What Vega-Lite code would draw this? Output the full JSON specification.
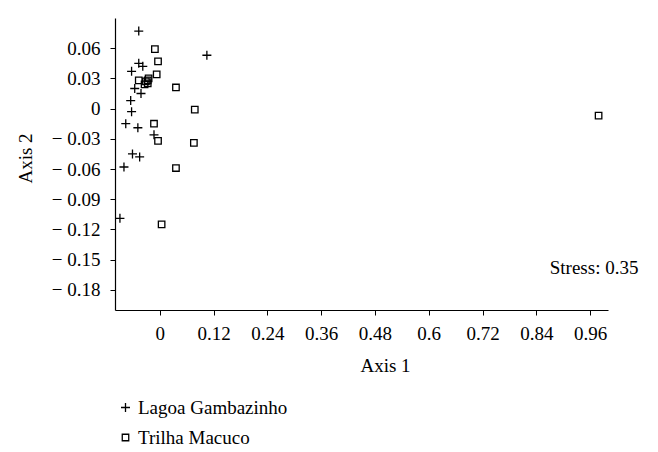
{
  "$schema": "https://vega.github.io/schema/vega-lite/v6.json",
  "width": 493,
  "height": 292,
  "autosize": {"type": "none"},
  "padding": {"left": 115, "top": 18, "right": 50, "bottom": 142},
  "background": "white",
  "config": {
    "view": {"stroke": null},
    "font": "Liberation Serif",
    "axis": {
      "grid": false,
      "domainColor": "black",
      "domainWidth": 1.2,
      "tickColor": "black",
      "tickSize": 5,
      "tickWidth": 1,
      "labelFont": "Liberation Serif",
      "labelFontSize": 19,
      "labelColor": "black",
      "labelOverlap": false,
      "titleFont": "Liberation Serif",
      "titleFontSize": 19,
      "titleFontWeight": "normal",
      "titleColor": "black"
    },
    "legend": {
      "labelFont": "Liberation Serif",
      "labelFontSize": 19,
      "labelColor": "black"
    }
  },
  "datasets": {
    "points": [
      {"axis1": -0.047, "axis2": 0.077, "site": "Lagoa Gambazinho"},
      {"axis1": 0.105, "axis2": 0.053, "site": "Lagoa Gambazinho"},
      {"axis1": -0.047, "axis2": 0.045, "site": "Lagoa Gambazinho"},
      {"axis1": -0.038, "axis2": 0.042, "site": "Lagoa Gambazinho"},
      {"axis1": -0.063, "axis2": 0.037, "site": "Lagoa Gambazinho"},
      {"axis1": -0.056, "axis2": 0.020, "site": "Lagoa Gambazinho"},
      {"axis1": -0.042, "axis2": 0.015, "site": "Lagoa Gambazinho"},
      {"axis1": -0.065, "axis2": 0.008, "site": "Lagoa Gambazinho"},
      {"axis1": -0.063, "axis2": -0.003, "site": "Lagoa Gambazinho"},
      {"axis1": -0.076, "axis2": -0.015, "site": "Lagoa Gambazinho"},
      {"axis1": -0.049, "axis2": -0.019, "site": "Lagoa Gambazinho"},
      {"axis1": -0.013, "axis2": -0.026, "site": "Lagoa Gambazinho"},
      {"axis1": -0.061, "axis2": -0.045, "site": "Lagoa Gambazinho"},
      {"axis1": -0.045, "axis2": -0.048, "site": "Lagoa Gambazinho"},
      {"axis1": -0.080, "axis2": -0.058, "site": "Lagoa Gambazinho"},
      {"axis1": -0.089, "axis2": -0.109, "site": "Lagoa Gambazinho"},
      {"axis1": -0.011, "axis2": 0.059, "site": "Trilha Macuco"},
      {"axis1": -0.004, "axis2": 0.047, "site": "Trilha Macuco"},
      {"axis1": -0.007, "axis2": 0.034, "site": "Trilha Macuco"},
      {"axis1": -0.025, "axis2": 0.030, "site": "Trilha Macuco"},
      {"axis1": -0.047, "axis2": 0.028, "site": "Trilha Macuco"},
      {"axis1": -0.031, "axis2": 0.027, "site": "Trilha Macuco"},
      {"axis1": -0.027, "axis2": 0.025, "site": "Trilha Macuco"},
      {"axis1": -0.034, "axis2": 0.024, "site": "Trilha Macuco"},
      {"axis1": -0.027, "axis2": 0.028, "site": "Trilha Macuco"},
      {"axis1": 0.036, "axis2": 0.021, "site": "Trilha Macuco"},
      {"axis1": 0.078, "axis2": -0.001, "site": "Trilha Macuco"},
      {"axis1": -0.013, "axis2": -0.015, "site": "Trilha Macuco"},
      {"axis1": -0.004, "axis2": -0.032, "site": "Trilha Macuco"},
      {"axis1": 0.076, "axis2": -0.034, "site": "Trilha Macuco"},
      {"axis1": 0.036, "axis2": -0.059, "site": "Trilha Macuco"},
      {"axis1": 0.004, "axis2": -0.115, "site": "Trilha Macuco"},
      {"axis1": 0.979, "axis2": -0.007, "site": "Trilha Macuco"}
    ],
    "notes": [
      {"label": "Stress: 0.35", "axis1": 0.87, "axis2": -0.158}
    ]
  },
  "layer": [
    {
      "data": {"name": "points"},
      "mark": {"type": "point", "filled": false, "color": "black", "strokeWidth": 1.3, "size": 81, "opacity": 1},
      "encoding": {
        "x": {
          "field": "axis1", "type": "quantitative",
          "scale": {"domain": [-0.1, 1.0], "nice": false, "zero": false},
          "axis": {
            "title": "Axis 1",
            "values": [0, 0.12, 0.24, 0.36, 0.48, 0.6, 0.72, 0.84, 0.96],
            "tickCount": 20,
            "labelExpr": "format(datum.value, '~g')",
            "labelOverlap": false,
            "labelPadding": 9,
            "titlePadding": 13,
            "titleX": 270
          }
        },
        "y": {
          "field": "axis2", "type": "quantitative",
          "scale": {"domain": [-0.2, 0.09], "nice": false, "zero": false},
          "axis": {
            "title": "Axis 2",
            "values": [-0.18, -0.15, -0.12, -0.09, -0.06, -0.03, 0, 0.03, 0.06],
            "tickCount": 20,
            "labelExpr": "(datum.value < 0 ? '− ' : '') + format(abs(datum.value), '~g')",
            "labelOverlap": false,
            "labelPadding": 10,
            "titlePadding": 16,
            "titleY": 140
          }
        },
        "shape": {
          "field": "site", "type": "nominal",
          "scale": {
            "domain": ["Lagoa Gambazinho", "Trilha Macuco"],
            "range": ["M-1,0H1M0,-1V1", "M-0.72,-0.72H0.72V0.72H-0.72Z"]
          },
          "legend": {
            "title": null,
            "orient": "none",
            "legendX": 1,
            "legendY": 380,
            "padding": 0,
            "symbolSize": 81,
            "symbolStrokeColor": "black",
            "symbolFillColor": "transparent",
            "symbolStrokeWidth": 1.3,
            "labelOffset": 3,
            "rowPadding": 10
          }
        }
      }
    },
    {
      "data": {"name": "notes"},
      "mark": {"type": "text", "align": "left", "baseline": "middle", "fontSize": 19, "font": "Liberation Serif", "color": "black", "clip": false},
      "encoding": {
        "x": {"field": "axis1", "type": "quantitative"},
        "y": {"field": "axis2", "type": "quantitative"},
        "text": {"field": "label", "type": "nominal"}
      }
    }
  ]
}
